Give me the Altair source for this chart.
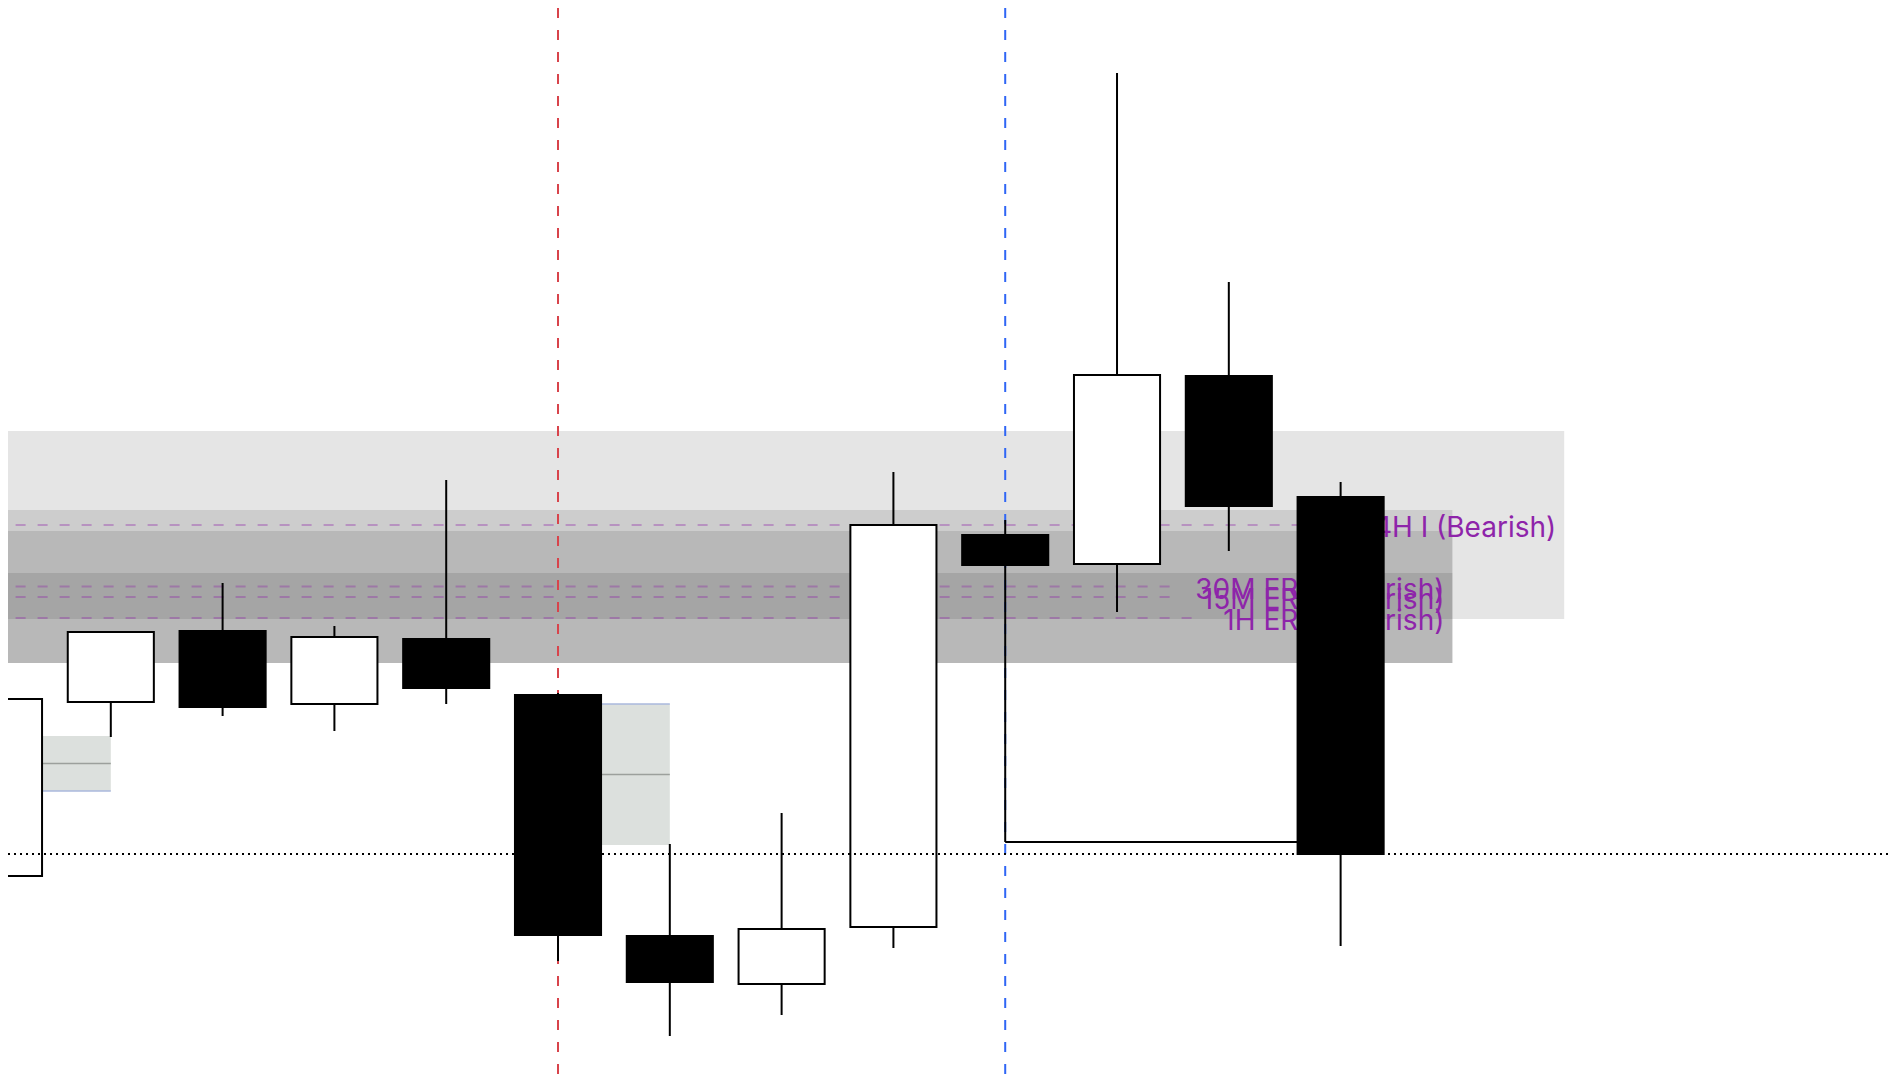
import altair as alt
import pandas as pd

# ---- candles (time index, price) ----
candle_t = list(range(13))
opens  = [2012.4, 2029.8, 2036.9, 2029.6, 2036.1, 2030.5, 2006.4, 2001.6, 2007.3, 2046.5, 2043.6, 2062.4, 2050.3]
highs  = [2031.0, 2036.8, 2041.7, 2037.4, 2052.0, 2030.7, 2015.6, 2018.7, 2052.8, 2048.0, 2092.7, 2071.8, 2051.8]
lows   = [2011.6, 2026.3, 2028.4, 2026.9, 2029.6, 2003.9, 1996.4, 1998.5, 2005.2, 2015.8, 2038.8, 2044.9, 2005.4]
closes = [2030.1, 2036.8, 2029.3, 2036.3, 2031.2, 2006.5, 2001.8, 2007.1, 2047.5, 2043.5, 2062.5, 2049.4, 2014.6]

# ---- zones ----
zone_labels = ["4H I (Bearish)", "30M ERT (Bearish)", "15M ERT (Bearish)", "1H ERT (Bearish)"]
zone_top    = [2056.9, 2049.0, 2046.9, 2042.7]
zone_bottom = [2038.1, 2033.7, 2033.7, 2033.7]
zone_start  = [-3, -3, -3, -3]
zone_end    = [14, 13, 13, 13]
zone_line_end = [12.2, 10.54, 10.57, 10.73]

# ---- fair value gaps ----
fvg_start  = [0, 5]
fvg_end    = [1, 6]
fvg_top    = [2026.4, 2029.6]
fvg_bottom = [2020.9, 2015.5]
fvg_edge   = [2020.9, 2029.6]

# ---- markers ----
marker_t = [5, 9]
marker_color = ["#d8434b", "#2f66f5"]
level_price = [2014.6]
sweep_start = [9]
sweep_end = [12]
sweep_price = [2015.8]

candles = pd.DataFrame({"t": candle_t, "open": opens, "high": highs, "low": lows, "close": closes})
candles["fill"] = ["#ffffff" if c >= o else "#000000" for o, c in zip(opens, closes)]
zones = pd.DataFrame({"label": zone_labels, "top": zone_top, "bottom": zone_bottom,
                      "start": zone_start, "end": zone_end, "line_end": zone_line_end})
zones["mid"] = (zones["top"] + zones["bottom"]) / 2
fvg = pd.DataFrame({"start": fvg_start, "end": fvg_end, "top": fvg_top, "bottom": fvg_bottom, "edge": fvg_edge})
fvg["mid"] = (fvg["top"] + fvg["bottom"]) / 2
markers = pd.DataFrame({"t": marker_t, "color": marker_color})
level = pd.DataFrame({"p": level_price})
sweep = pd.DataFrame({"start": sweep_start, "end": sweep_end, "p": sweep_price})

xs = alt.Scale(domain=[0.0805, 16.896], nice=False, zero=False)
ys = alt.Scale(domain=[1992.0, 2099.2], nice=False, zero=False)

def X(f):
    return alt.X(f, type="quantitative", scale=xs, axis=None)

def Y(f):
    return alt.Y(f, type="quantitative", scale=ys, axis=None)

zone_rects = alt.Chart(zones).mark_rect(fill="black", fillOpacity=0.1).encode(
    x=X("start"), x2="end", y=Y("top"), y2="bottom")

fvg_rects = alt.Chart(fvg).mark_rect(fill="#dce0dd").encode(
    x=X("start"), x2="end", y=Y("top"), y2="bottom")
fvg_mid = alt.Chart(fvg).mark_rule(color="#9ca09c", strokeWidth=1.5).encode(
    x=X("start"), x2="end", y=Y("mid"))
fvg_edge_l = alt.Chart(fvg).mark_rule(color="#aab9dc", strokeWidth=1.5).encode(
    x=X("start"), x2="end", y=Y("edge"))

zone_lines = alt.Chart(zones).mark_rule(color="#8e24aa", strokeOpacity=0.35, strokeWidth=2,
                                        strokeDash=[10, 12]).encode(
    x=X("start"), x2="line_end", y=Y("mid"))
zone_text = alt.Chart(zones).mark_text(align="right", baseline="middle", dx=-8, dy=4,
                                       font="Inter", fontSize=28, color="#8e24aa").encode(
    x=X("end"), y=Y("mid"), text="label:N")

vlines = alt.Chart(markers).mark_rule(strokeWidth=2, strokeDash=[10, 12]).encode(
    x=X("t"), color=alt.Color("color:N", scale=None))

sweep_line = alt.Chart(sweep).mark_rule(color="black", strokeWidth=2).encode(
    x=X("start"), x2="end", y=Y("p"))

wicks = alt.Chart(candles).mark_rule(color="black", strokeWidth=2).encode(
    x=X("t"), y=Y("low"), y2="high")
bodies = alt.Chart(candles).transform_calculate(
    x_lo="datum.t - 0.385", x_hi="datum.t + 0.385"
).mark_rect(stroke="black", strokeWidth=2).encode(
    x=X("x_lo"), x2="x_hi", y=Y("open"), y2="close",
    fill=alt.Fill("fill:N", scale=None))

level_line = alt.Chart(level).mark_rule(color="black", strokeWidth=2, strokeDash=[2, 4]).encode(
    y=Y("p"))

chart = alt.layer(
    zone_rects, fvg_rects, fvg_mid, fvg_edge_l, zone_lines, zone_text,
    vlines, sweep_line, wicks, bodies, level_line
).properties(
    width=1880, height=1072, padding=0,
    autosize=alt.AutoSizeParams(type="none"),
    background="white",
).configure_view(stroke=None)

chart.save("out.html", embed_options={"renderer": "svg", "actions": False})
